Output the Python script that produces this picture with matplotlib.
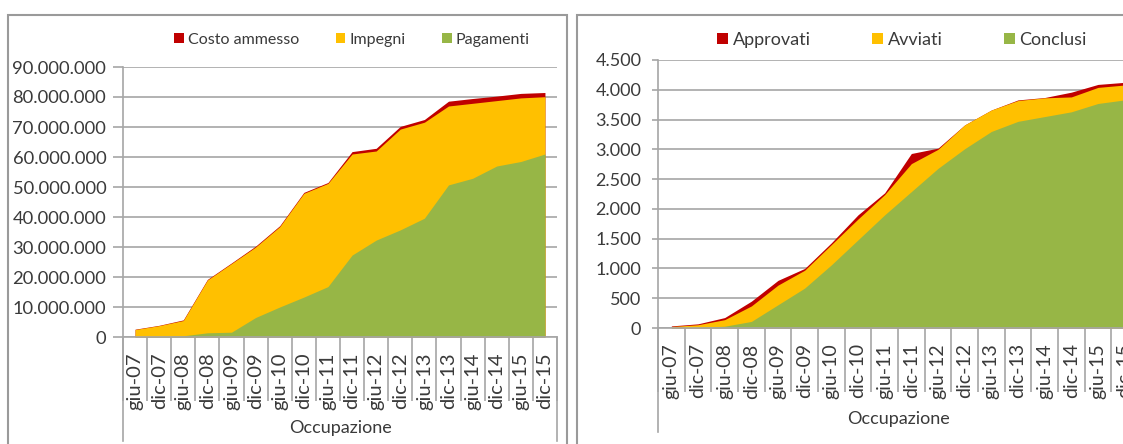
import numpy as np
import matplotlib
matplotlib.use("Agg")
import matplotlib.pyplot as plt
from matplotlib.patches import Rectangle, Patch
from matplotlib.ticker import FuncFormatter

plt.rcParams["font.family"] = ["Lato", "DejaVu Sans"]

periodi = ["giu-07", "dic-07", "giu-08", "dic-08", "giu-09", "dic-09",
           "giu-10", "dic-10", "giu-11", "dic-11", "giu-12", "dic-12",
           "giu-13", "dic-13", "giu-14", "dic-14", "giu-15", "dic-15"]

# left chart, milioni di euro
costo_ammesso = [2.6, 3.9, 5.7, 19.2, 24.7, 30.3, 37.1, 48.2, 51.5, 61.8,
                 62.9, 70.2, 72.5, 78.6, 79.5, 80.3, 81.2, 81.5]
impegni = [2.5, 3.8, 5.5, 19.0, 24.5, 30.0, 36.8, 47.9, 51.2, 61.0,
           62.0, 69.3, 71.6, 77.0, 77.9, 78.8, 79.7, 80.1]
pagamenti = [0.1, 0.2, 0.4, 1.4, 1.6, 6.5, 10.0, 13.3, 16.8, 27.3,
             32.3, 35.7, 39.6, 50.7, 52.9, 57.0, 58.5, 61.0]

# right chart, numero progetti
approvati = [35, 70, 175, 450, 800, 1000, 1430, 1900, 2270, 2930,
             3020, 3410, 3660, 3830, 3870, 3960, 4090, 4125]
avviati = [25, 55, 140, 370, 720, 970, 1400, 1830, 2240, 2760,
           3000, 3410, 3660, 3820, 3865, 3880, 4040, 4080]
conclusi = [3, 10, 30, 110, 390, 670, 1060, 1480, 1900, 2290,
            2680, 3010, 3300, 3470, 3550, 3630, 3770, 3830]

RED = "#C00000"
YELLOW = "#FFC000"
GREEN = "#97B646"
GRID = "#A6A6A6"
TEXT = "#3a3a3a"

W, H = 1123, 444


def px_axes(fig, x0, x1, ytop, ybot):
    return fig.add_axes([x0 / W, (H - ybot) / H, (x1 - x0) / W, (ybot - ytop) / H])


def dotted(v, pos):
    return f"{v:,.0f}".replace(",", ".")


def draw_panel(ax, series, colors, names, ymax, ystep, scale, tick_len, ypad,
               height_px, yfs, xfs, leg_fs, leg_x, leg_dy, colspace):
    x = np.arange(len(periodi))
    for vals, col in zip(series, colors):
        ax.fill_between(x, 0, np.array(vals) * scale, color=col, lw=0, zorder=2)

    ax.set_xlim(-0.5, len(periodi) - 0.5)
    ax.set_ylim(0, ymax)
    ax.set_yticks(np.arange(0, ymax + 1, ystep))
    ax.yaxis.set_major_formatter(FuncFormatter(dotted))
    ax.grid(axis="y", color=GRID, lw=1.2)
    ax.set_axisbelow(True)

    for s in ["top", "right"]:
        ax.spines[s].set_visible(False)
    for s in ["left", "bottom"]:
        ax.spines[s].set_color(GRID)
        ax.spines[s].set_linewidth(1.2)
        ax.spines[s].set_zorder(3)

    ax.tick_params(axis="y", length=tick_len, width=1.2, color=GRID,
                   labelsize=yfs, labelcolor=TEXT, pad=ypad)
    # labels at category centres, separators at boundaries
    ax.set_xticks(x)
    ax.set_xticklabels(periodi, rotation=90)
    ax.set_xticks(np.arange(-0.5, len(periodi)), minor=True)
    sep = 64 * 72 / 100
    ax.tick_params(axis="x", which="major", length=0, pad=11,
                   labelsize=xfs, labelcolor=TEXT)
    ax.tick_params(axis="x", which="minor", length=sep, width=1.2, color=GRID)

    long_line = -104 / height_px
    tr = ax.get_xaxis_transform()
    for xb in [-0.5, len(periodi) - 0.5]:
        ax.plot([xb, xb], [0, long_line], color=GRID, lw=1.2,
                transform=tr, clip_on=False)

    ax.text(0.5, -91 / height_px, "Occupazione", transform=ax.transAxes,
            ha="center", va="center", fontsize=13, color=TEXT)

    handles = [Patch(facecolor=c, edgecolor="none") for c in colors]
    ax.legend(handles, names, loc="center", ncol=3, frameon=False,
              bbox_to_anchor=(leg_x, 1 + leg_dy / height_px),
              fontsize=leg_fs, handlelength=0.6, handleheight=0.6,
              handletextpad=0.25, columnspacing=colspace, labelcolor=TEXT)


fig = plt.figure(figsize=(W / 100, H / 100), dpi=100)

# panel frames
fig.add_artist(Rectangle((8 / W, -0.1), (567 - 8) / W, (H - 15) / H + 0.1,
                         transform=fig.transFigure, fill=False,
                         edgecolor="#9a9a9a", lw=1.5))
fig.add_artist(Rectangle((577 / W, -0.1), 0.6, (H - 15) / H + 0.1,
                         transform=fig.transFigure, fill=False,
                         edgecolor="#9a9a9a", lw=1.5))

ax1 = px_axes(fig, 123, 557, 67, 337)
draw_panel(ax1, [costo_ammesso, impegni, pagamenti], [RED, YELLOW, GREEN],
           ["Costo ammesso", "Impegni", "Pagamenti"],
           90e6, 10e6, 1e6, 7, 5, 270, 13.2, 14.5, 11.5,
           (352 - 123) / 434, 27, 2.3)

ax2 = px_axes(fig, 658, 1138, 60, 328)
draw_panel(ax2, [approvati, avviati, conclusi], [RED, YELLOW, GREEN],
           ["Approvati", "Avviati", "Conclusi"],
           4500, 500, 1, 4.5, 7.5, 268, 13, 14, 13,
           (902 - 658) / 480, 20, 3.4)

fig.savefig("out.png", dpi=100)
